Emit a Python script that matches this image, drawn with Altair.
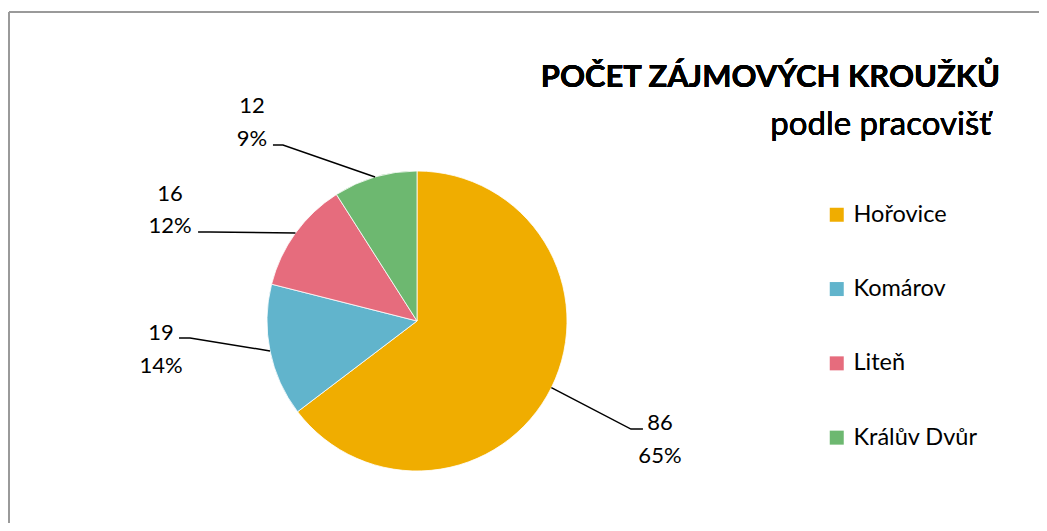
import altair as alt
import pandas as pd
import numpy as np

# ---- data ----
categories = ["Hořovice", "Komárov", "Liteň", "Králův Dvůr"]
counts = [86, 19, 16, 12]
title_text = "POČET ZÁJMOVÝCH KROUŽKŮ"
subtitle_text = "podle pracovišť"

# ---- style / layout ----
colors = ["#F0AD00", "#61B4CC", "#E66C7D", "#6DB870"]
W, H = 1031, 515
CX, CY, R = 409, 313, 150
FONT = "Lato"
# leader elbow in polar coordinates (deg clockwise from 12 o'clock, radius px)
elbow_angle = [116.8, 265.7, 293.3, 322.7]
elbow_radius = [239.7, 227.6, 225.3, 221.2]
tail = [12, -11, -12, -10]
text_dx = [17, -18, -28, -21]
text_dy = [1, 2, -31, -32]

total = sum(counts)
vals = np.array(counts, dtype=float)
cum = np.cumsum(vals)
mid = (cum - vals / 2) / total * 2 * np.pi

df = pd.DataFrame({"cat": categories, "count": counts, "idx": range(len(categories))})

line_rows = []
text_rows = []
for i, c in enumerate(categories):
    ex = CX + R * np.sin(mid[i])
    ey = CY - R * np.cos(mid[i])
    a = np.deg2rad(elbow_angle[i])
    bx = CX + elbow_radius[i] * np.sin(a)
    by = CY - elbow_radius[i] * np.cos(a)
    tx = bx + tail[i]
    line_rows += [
        {"cat": c, "o": 0, "px": ex, "py": ey},
        {"cat": c, "o": 1, "px": bx, "py": by},
        {"cat": c, "o": 2, "px": tx, "py": by},
    ]
    pct = round(counts[i] / total * 100)
    text_rows.append({"cat": c, "px": tx + text_dx[i], "py": by + text_dy[i],
                      "label": f"{counts[i]}\n{pct}%"})
lines_df = pd.DataFrame(line_rows)
text_df = pd.DataFrame(text_rows)

xs = alt.Scale(domain=[0, W], range=[0, W], nice=False, zero=False)
ys = alt.Scale(domain=[0, H], range=[0, H], nice=False, zero=False)

pie = alt.Chart(df).mark_arc(radius=R, stroke="white", strokeWidth=0.8).encode(
    theta=alt.Theta("count:Q", stack=True),
    order=alt.Order("idx:Q"),
    color=alt.Color(
        "cat:N",
        scale=alt.Scale(domain=categories, range=colors),
        sort=categories,
        legend=alt.Legend(
            title=None, orient="none", legendX=817, legendY=195,
            symbolType="square", symbolSize=196, symbolStrokeWidth=0,
            symbolOpacity=1,
            labelFontSize=23.5, labelFont=FONT, labelColor="#000000",
            labelFontWeight="normal",
            rowPadding=49.3, labelOffset=5, padding=0,
        ),
    ),
    x=alt.value(CX),
    y=alt.value(CY),
)

leaders = alt.Chart(lines_df).mark_line(color="#000000", strokeWidth=1.5).encode(
    x=alt.X("px:Q", scale=xs, axis=None),
    y=alt.Y("py:Q", scale=ys, axis=None),
    detail="cat:N",
    order="o:Q",
)

labels = alt.Chart(text_df).mark_text(
    font=FONT, fontSize=22, color="#000000", align="center",
    baseline="alphabetic", lineBreak="\n", lineHeight=32.5,
).encode(
    x=alt.X("px:Q", scale=xs, axis=None),
    y=alt.Y("py:Q", scale=ys, axis=None),
    text="label:N",
)

title = alt.Chart(df).mark_text(
    font=FONT, fontSize=31, fontWeight="bold", color="#000000",
    align="right", baseline="alphabetic",
).encode(x=alt.value(992), y=alt.value(79), text=alt.value(title_text))

subtitle = alt.Chart(df).mark_text(
    font=FONT, fontSize=33, fontWeight="normal", color="#000000",
    align="right", baseline="alphabetic",
).encode(x=alt.value(983), y=alt.value(127), text=alt.value(subtitle_text))

border = alt.Chart(df).mark_rule(color="#9A9A9A", strokeWidth=2).encode(
    x=alt.value(1), x2=alt.value(W), y=alt.value(4)
)
border_left = alt.Chart(df).mark_rule(color="#9A9A9A", strokeWidth=2).encode(
    x=alt.value(1), y=alt.value(4), y2=alt.value(H)
)

chart = alt.layer(border, border_left, pie, leaders, labels, title, subtitle).properties(
    width=W, height=H, padding=0, autosize=alt.AutoSizeParams(type="none"),
    background="white",
).configure_view(stroke=None)

chart.save("out.html", embed_options={"renderer": "svg", "actions": False})
